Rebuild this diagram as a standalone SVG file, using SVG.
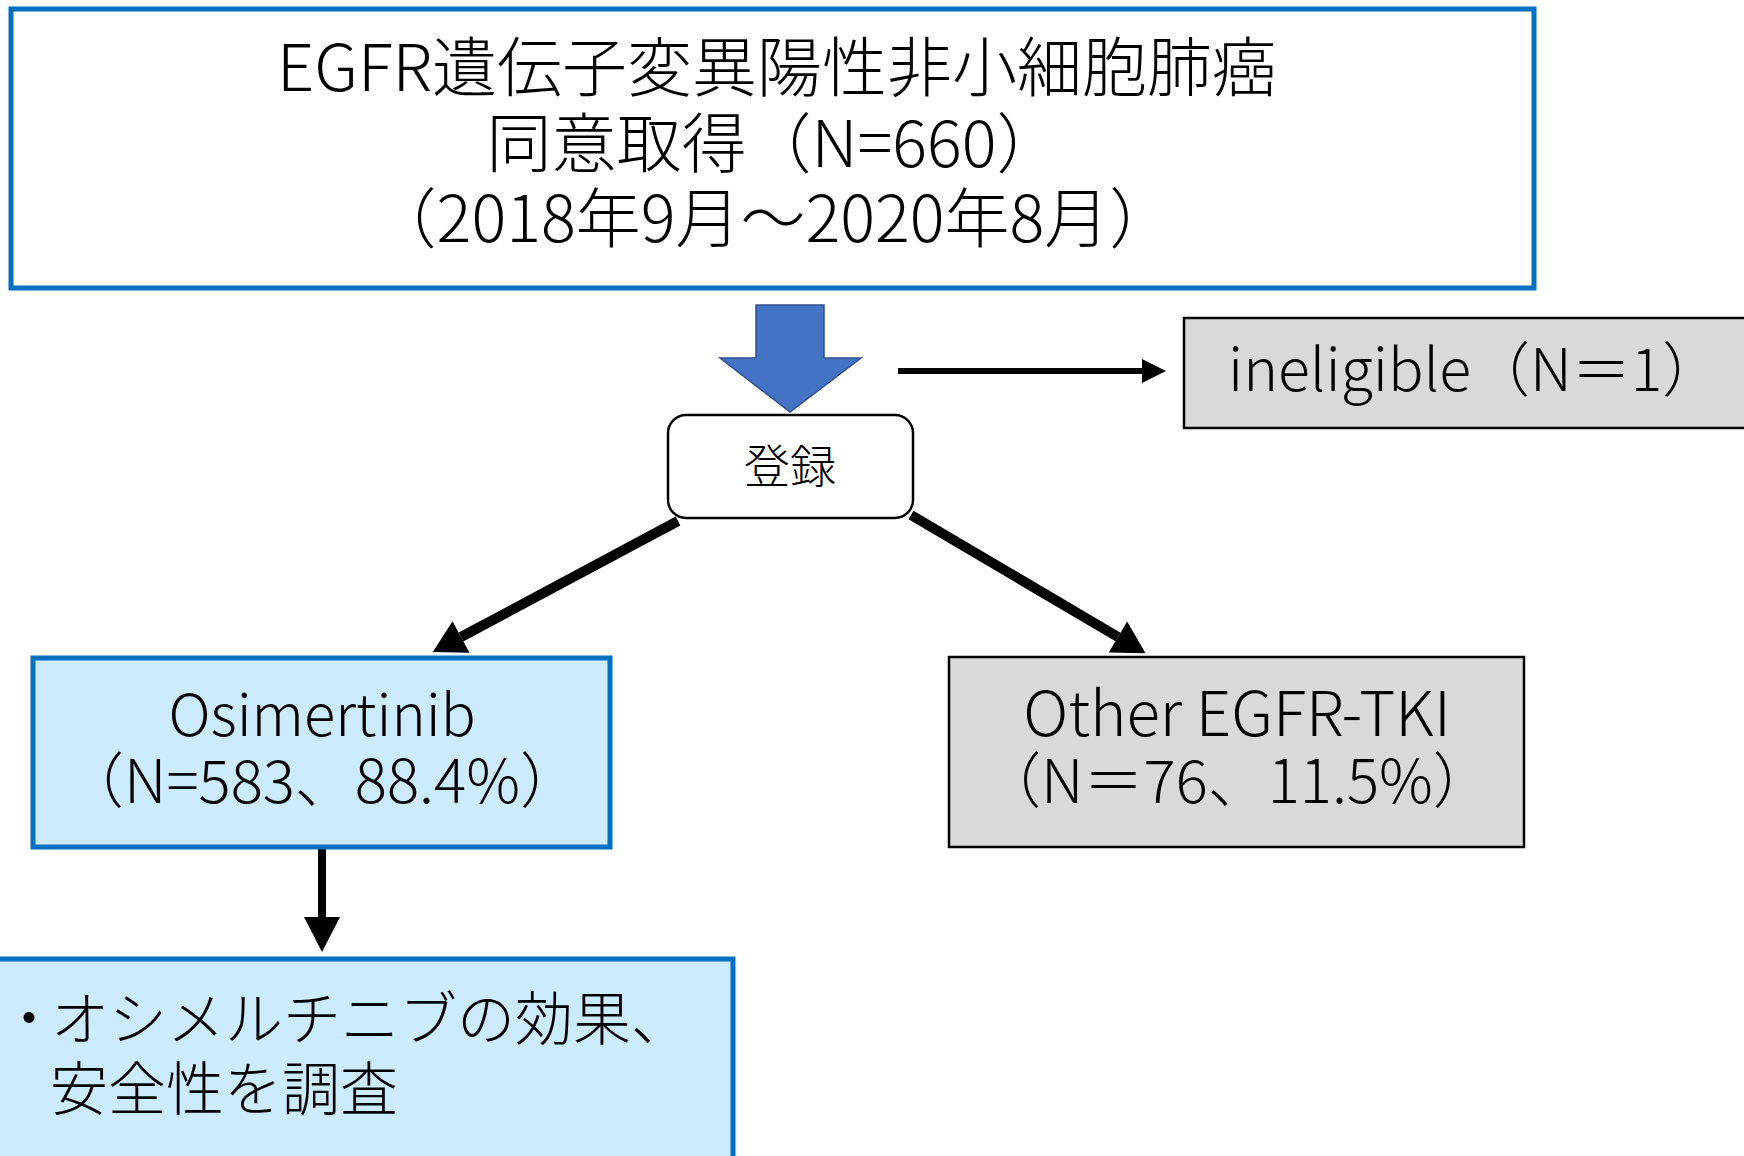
<svg xmlns="http://www.w3.org/2000/svg" width="1744" height="1156" viewBox="0 0 1744 1156">
<style>
text{font-family:"Noto Sans CJK JP","Noto Sans",sans-serif;fill:#000;font-weight:300}
.blue{fill:#CCEBFF;stroke:#0070C0;stroke-width:5}
.gray{fill:#D9D9D9;stroke:#000;stroke-width:2.5}
.conn{stroke:#000;fill:none}
</style>
<defs>
<marker id="hS" markerUnits="userSpaceOnUse" markerWidth="26" markerHeight="26" refX="0" refY="12" orient="auto" overflow="visible"><path d="M0,0 L24,12 L0,24 Z" fill="#000"/></marker>
<marker id="hM" markerUnits="userSpaceOnUse" markerWidth="38" markerHeight="38" refX="0" refY="18" orient="auto" overflow="visible"><path d="M0,0 L32,18 L0,36 Z" fill="#000"/></marker>
<marker id="hL" markerUnits="userSpaceOnUse" markerWidth="38" markerHeight="38" refX="0" refY="18" orient="auto" overflow="visible"><path d="M0,0 L35,18 L0,36 Z" fill="#000"/></marker>
</defs>
<rect width="1744" height="1156" fill="#fff"/>
<g id="connectors">
<path id="block-arrow" d="M756,305 H824 V358 H861 L790,412 L720,358 H756 Z" fill="#4472C4" stroke="#2F528F" stroke-width="1.5"/>
<line class="conn" x1="898" y1="371" x2="1142" y2="371" stroke-width="6" marker-end="url(#hS)"/>
<line class="conn" x1="678" y1="521" x2="461" y2="637" stroke-width="10" marker-end="url(#hM)"/>
<line class="conn" x1="911" y1="515" x2="1118" y2="637" stroke-width="10" marker-end="url(#hM)"/>
<line class="conn" x1="322" y1="848" x2="322" y2="917" stroke-width="8" marker-end="url(#hL)"/>
</g>
<g id="node-top">
<rect x="11" y="9" width="1523" height="279" fill="#fff" stroke="#0070C0" stroke-width="5"/>
<text x="777" y="91" font-size="65" text-anchor="middle">EGFR遺伝子変異陽性非小細胞肺癌</text>
<text x="774" y="167" font-size="65" text-anchor="middle">同意取得（N=660）</text>
<text x="773" y="242" font-size="65" text-anchor="middle">（2018年9月～2020年8月）</text>
</g>
<g id="node-register">
<rect x="668" y="415" width="245" height="103" rx="18" fill="#fff" stroke="#000" stroke-width="2.5"/>
<text x="790" y="483" font-size="46" text-anchor="middle">登録</text>
</g>
<g id="node-ineligible">
<rect x="1184" y="318" width="580" height="110" class="gray"/>
<text x="1228" y="391" font-size="59">ineligible（N＝1）</text>
</g>
<g id="node-osimertinib">
<rect x="33" y="658" width="577" height="189" class="blue"/>
<text x="322" y="736" font-size="58" text-anchor="middle">Osimertinib</text>
<text x="322" y="803" font-size="60" text-anchor="middle">（N=583、88.4%）</text>
</g>
<g id="node-other">
<rect x="949" y="657" width="575" height="190" class="gray"/>
<text x="1237" y="736" font-size="62" text-anchor="middle">Other EGFR-TKI</text>
<text x="1237" y="803" font-size="60" text-anchor="middle">（N＝76、11.5%）</text>
</g>
<g id="node-survey">
<rect x="-10" y="959" width="743" height="220" class="blue"/>
<text x="0" y="1040" font-size="58">・<tspan x="51">オシメルチニブの効果、</tspan></text>
<text x="50" y="1110" font-size="58">安全性を調査</text>
</g>
</svg>
